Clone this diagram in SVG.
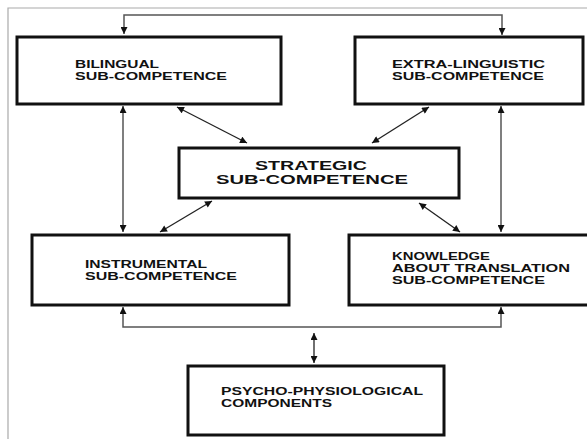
<svg xmlns="http://www.w3.org/2000/svg" width="587" height="439" viewBox="0 0 587 439">
<defs>
<marker id="ah" viewBox="0 0 10 10" refX="10" refY="5" markerWidth="8" markerHeight="7" markerUnits="userSpaceOnUse" orient="auto-start-reverse">
<path d="M0,0 L10,5 L0,10 Z" fill="#111"/>
</marker>
</defs>
<style>
.box{fill:#fff;stroke:#111;stroke-width:3}
.t{font-family:"Liberation Sans",Arial,sans-serif;font-weight:bold;fill:#111;font-size:10.5px}
.ts{font-family:"Liberation Sans",Arial,sans-serif;font-weight:bold;fill:#111;font-size:12.5px}
.c{fill:none;stroke:#555;stroke-width:1.5}
.d{fill:none;stroke:#222;stroke-width:1.3}
.frame{fill:none;stroke:#aaa;stroke-width:1.2}
</style>
<rect width="587" height="439" fill="#fff"/>
<path class="frame" d="M8,439 L8,8 L587,8"/>
<g id="connectors">
<path class="c" d="M124,34 L124,15 L502,15 L502,35" marker-start="url(#ah)" marker-end="url(#ah)"/>
<path class="c" d="M123,106 L123,232" marker-start="url(#ah)" marker-end="url(#ah)"/>
<path class="c" d="M501,106 L501,232" marker-start="url(#ah)" marker-end="url(#ah)"/>
<path class="c" d="M123,307 L123,327 L501,327 L501,307" marker-start="url(#ah)" marker-end="url(#ah)"/>
<path class="d" d="M314,333 L314,363" marker-start="url(#ah)" marker-end="url(#ah)"/>
<path class="d" d="M177,107 L247,143" marker-start="url(#ah)" marker-end="url(#ah)"/>
<path class="d" d="M429,107 L372,143" marker-start="url(#ah)" marker-end="url(#ah)"/>
<path class="d" d="M160,232 L212,201" marker-start="url(#ah)" marker-end="url(#ah)"/>
<path class="d" d="M419,203 L460,232" marker-start="url(#ah)" marker-end="url(#ah)"/>
</g>
<g id="bilingual">
<rect class="box" x="17" y="37" width="264" height="67"/>
<text class="t" x="75" y="68" textLength="84" lengthAdjust="spacingAndGlyphs">BILINGUAL</text>
<text class="t" x="75" y="80" textLength="152" lengthAdjust="spacingAndGlyphs">SUB-COMPETENCE</text>
</g>
<g id="extra">
<rect class="box" x="355" y="37" width="228" height="67"/>
<text class="t" x="392" y="68" textLength="153" lengthAdjust="spacingAndGlyphs">EXTRA-LINGUISTIC</text>
<text class="t" x="392" y="80" textLength="152" lengthAdjust="spacingAndGlyphs">SUB-COMPETENCE</text>
</g>
<g id="strategic">
<rect class="box" x="179" y="148" width="280" height="50"/>
<text class="ts" x="255" y="170" textLength="112" lengthAdjust="spacingAndGlyphs">STRATEGIC</text>
<text class="ts" x="216" y="184" textLength="192" lengthAdjust="spacingAndGlyphs">SUB-COMPETENCE</text>
</g>
<g id="instrumental">
<rect class="box" x="32" y="235" width="257" height="70"/>
<text class="t" x="85" y="268" textLength="122" lengthAdjust="spacingAndGlyphs">INSTRUMENTAL</text>
<text class="t" x="85" y="280" textLength="152" lengthAdjust="spacingAndGlyphs">SUB-COMPETENCE</text>
</g>
<g id="knowledge">
<rect class="box" x="349" y="235" width="240" height="70"/>
<text class="t" x="392" y="260" textLength="98" lengthAdjust="spacingAndGlyphs">KNOWLEDGE</text>
<text class="t" x="392" y="272" textLength="178" lengthAdjust="spacingAndGlyphs">ABOUT TRANSLATION</text>
<text class="t" x="392" y="284" textLength="153" lengthAdjust="spacingAndGlyphs">SUB-COMPETENCE</text>
</g>
<g id="psycho">
<rect class="box" x="188" y="366" width="256" height="69"/>
<text class="t" x="221" y="395" textLength="202" lengthAdjust="spacingAndGlyphs">PSYCHO-PHYSIOLOGICAL</text>
<text class="t" x="221" y="407" textLength="111" lengthAdjust="spacingAndGlyphs">COMPONENTS</text>
</g>
</svg>
